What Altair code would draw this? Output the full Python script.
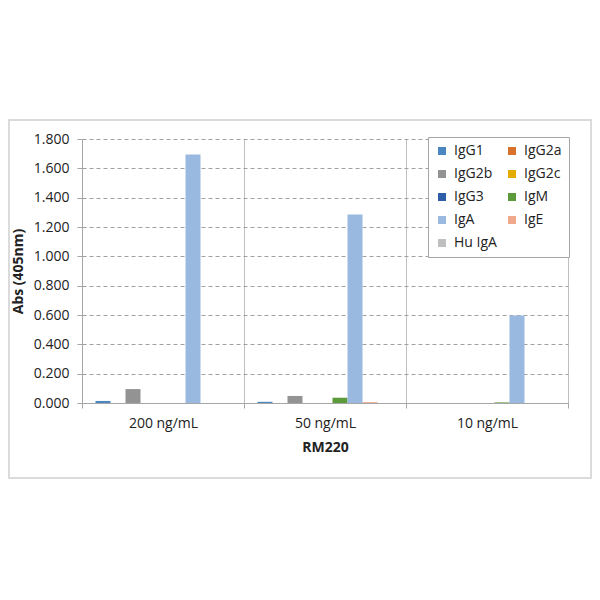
import altair as alt
import pandas as pd

groups = ["200 ng/mL", "50 ng/mL", "10 ng/mL"]
series = ["IgG1", "IgG2a", "IgG2b", "IgG2c", "IgG3", "IgM", "IgA", "IgE", "Hu IgA"]
colors = ["#4A86C0", "#D8712C", "#939393", "#E5AC00", "#2F5EA8", "#5C9A3A", "#99B9E0", "#F0A88C", "#BFBFBF"]

v200 = [0.014, 0.0, 0.095, 0.0, 0.0, 0.0, 1.695, 0.0, 0.0]
v50 = [0.008, 0.0, 0.048, 0.0, 0.0, 0.036, 1.285, 0.006, 0.0]
v10 = [0.0, 0.0, 0.0, 0.0, 0.0, 0.004, 0.597, 0.0, 0.0]

rows = []
for g, vals in zip(groups, [v200, v50, v10]):
    for s, v in zip(series, vals):
        rows.append({"group": g, "series": s, "value": v})
df = pd.DataFrame(rows)

FONT = "Open Sans"
W, H = 486, 264

bars = alt.Chart(df).mark_bar(size=15).encode(
    x=alt.X("group:N", sort=groups,
            scale=alt.Scale(paddingInner=0, paddingOuter=0),
            axis=alt.Axis(title="RM220", labelAngle=0, tickBand="extent",
                          grid=True, gridColor="#BFBFBF", gridWidth=1,
                          domainColor="#A6A6A6", tickColor="#A6A6A6", tickSize=5,
                          labelFontSize=14, labelPadding=8, labelColor="#222222",
                          titleFontSize=14, titleFontWeight="bold", titlePadding=10,
                          titleColor="#222222")),
    xOffset=alt.XOffset("series:N", sort=series,
                        scale=alt.Scale(paddingInner=0, paddingOuter=0.9)),
    y=alt.Y("value:Q", scale=alt.Scale(domain=[0, 1.8]),
            axis=alt.Axis(title="Abs (405nm)", format=".3f", values=[0, 0.2, 0.4, 0.6, 0.8, 1.0, 1.2, 1.4, 1.6, 1.8],
                          grid=True, gridColor="#A0A0A0", gridDash=[4, 3],
                          domainColor="#A6A6A6", tickColor="#A6A6A6", tickSize=5,
                          labelFontSize=14, labelPadding=8, labelColor="#222222",
                          titleFontSize=14, titleFontWeight="bold", titlePadding=8,
                          titleColor="#222222")),
    color=alt.Color("series:N", sort=series,
                    scale=alt.Scale(domain=series, range=colors),
                    legend=alt.Legend(title=None, orient="none", legendX=346, legendY=-2,
                                      direction="horizontal", columns=2,
                                      columnPadding=8, rowPadding=9,
                                      symbolType="square", symbolSize=64, symbolStrokeWidth=0,
                                      labelFontSize=14, labelColor="#222222",
                                      strokeColor="#A6A6A6", fillColor="white", padding=7,
                                      labelOffset=5)),
)

border = alt.Chart(pd.DataFrame({"a": [0]})).mark_rect(
    fill=None, stroke="#D0D0D0", strokeWidth=1.5
).encode(
    x=alt.value(-73), x2=alt.value(W + 23),
    y=alt.value(-19), y2=alt.value(339),
)

chart = alt.layer(border, bars).properties(
    width=W, height=H,
    autosize=alt.AutoSizeParams(type="none"),
    padding={"left": 74, "top": 131, "right": 24, "bottom": 80},
).configure(font=FONT).configure_view(stroke=None)

chart.save("out.html", embed_options={"renderer": "svg", "actions": False})
